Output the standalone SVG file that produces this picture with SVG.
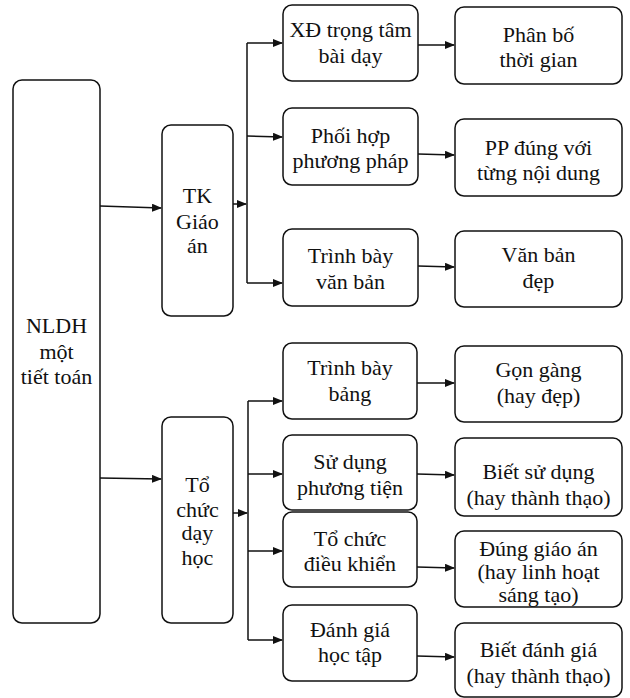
<svg xmlns="http://www.w3.org/2000/svg" width="630" height="698" viewBox="0 0 630 698">
<style>
.b{fill:#fff;stroke:#111;stroke-width:1.5}
.t{font-family:'Liberation Serif','Times New Roman',serif;font-size:22px;fill:#111;text-anchor:middle}
.c{fill:none;stroke:#111;stroke-width:1.5}
</style>
<defs>
<marker id="a" markerWidth="10" markerHeight="8" refX="9" refY="4" orient="auto" markerUnits="userSpaceOnUse">
<path d="M0,0 L10,4 L0,8 Z" fill="#111"/>
</marker>
</defs>
<rect width="630" height="698" fill="#fff"/>
<g id="connectors">
<path class="c" d="M100,206 L161,208" marker-end="url(#a)"/>
<path class="c" d="M100,478 L161,479" marker-end="url(#a)"/>
<path class="c" d="M233,204 L246,204" marker-end="url(#a)"/>
<path class="c" d="M247,43 L247,283"/>
<path class="c" d="M247,43 L282,43" marker-end="url(#a)"/>
<path class="c" d="M247,136 L282,137" marker-end="url(#a)"/>
<path class="c" d="M247,283 L282,283" marker-end="url(#a)"/>
<path class="c" d="M233,513 L247,513" marker-end="url(#a)"/>
<path class="c" d="M248,401 L248,640"/>
<path class="c" d="M248,401 L282,401" marker-end="url(#a)"/>
<path class="c" d="M248,474 L282,474" marker-end="url(#a)"/>
<path class="c" d="M248,551 L282,551" marker-end="url(#a)"/>
<path class="c" d="M248,640 L282,640" marker-end="url(#a)"/>
<path class="c" d="M418,45 L454,45" marker-end="url(#a)"/>
<path class="c" d="M418,154 L454,155" marker-end="url(#a)"/>
<path class="c" d="M418,266 L454,267" marker-end="url(#a)"/>
<path class="c" d="M417,383 L454,383" marker-end="url(#a)"/>
<path class="c" d="M417,474 L454,475" marker-end="url(#a)"/>
<path class="c" d="M417,567 L454,568" marker-end="url(#a)"/>
<path class="c" d="M417,656 L454,657" marker-end="url(#a)"/>
</g>
<g id="nldh">
<rect class="b" x="13" y="80" width="87" height="543" rx="9"/>
<text class="t" x="56.5" y="333">NLDH</text>
<text class="t" x="56.5" y="359">một</text>
<text class="t" x="56.5" y="384">tiết toán</text>
</g>
<g id="tk">
<rect class="b" x="162" y="125" width="71" height="191" rx="9"/>
<text class="t" x="197.5" y="203">TK</text>
<text class="t" x="197.5" y="229">Giáo</text>
<text class="t" x="197.5" y="253">án</text>
</g>
<g id="tc">
<rect class="b" x="162" y="417" width="71" height="206" rx="9"/>
<text class="t" x="197.5" y="492">Tổ</text>
<text class="t" x="197.5" y="517">chức</text>
<text class="t" x="197.5" y="540">dạy</text>
<text class="t" x="197.5" y="565">học</text>
</g>
<g id="xd">
<rect class="b" x="283" y="5" width="135" height="76" rx="9"/>
<text class="t" x="350.5" y="37">XĐ trọng tâm</text>
<text class="t" x="350.5" y="63">bài dạy</text>
</g>
<g id="ph">
<rect class="b" x="283" y="108" width="135" height="77" rx="9"/>
<text class="t" x="350.5" y="143">Phối hợp</text>
<text class="t" x="350.5" y="168">phương pháp</text>
</g>
<g id="tbvb">
<rect class="b" x="283" y="229" width="135" height="77" rx="9"/>
<text class="t" x="350.5" y="263">Trình bày</text>
<text class="t" x="350.5" y="289">văn bản</text>
</g>
<g id="pb">
<rect class="b" x="455" y="7" width="167" height="77" rx="9"/>
<text class="t" x="538.5" y="42">Phân bố</text>
<text class="t" x="538.5" y="67">thời gian</text>
</g>
<g id="pp">
<rect class="b" x="455" y="119" width="167" height="77" rx="9"/>
<text class="t" x="538.5" y="155">PP đúng với</text>
<text class="t" x="538.5" y="180">từng nội dung</text>
</g>
<g id="vb">
<rect class="b" x="455" y="231" width="167" height="76" rx="9"/>
<text class="t" x="538.5" y="262">Văn bản</text>
<text class="t" x="538.5" y="288">đẹp</text>
</g>
<g id="tbb">
<rect class="b" x="283" y="343" width="134" height="76" rx="9"/>
<text class="t" x="350" y="375">Trình bày</text>
<text class="t" x="350" y="401">bảng</text>
</g>
<g id="sd">
<rect class="b" x="283" y="435" width="134" height="75" rx="9"/>
<text class="t" x="350" y="469">Sử dụng</text>
<text class="t" x="350" y="495">phương tiện</text>
</g>
<g id="tcdk">
<rect class="b" x="283" y="512" width="134" height="75" rx="9"/>
<text class="t" x="350" y="546">Tổ chức</text>
<text class="t" x="350" y="571">điều khiển</text>
</g>
<g id="dg">
<rect class="b" x="283" y="605" width="134" height="76" rx="9"/>
<text class="t" x="350" y="637">Đánh giá</text>
<text class="t" x="350" y="662">học tập</text>
</g>
<g id="gg">
<rect class="b" x="455" y="346" width="167" height="76" rx="9"/>
<text class="t" x="538.5" y="377">Gọn gàng</text>
<text class="t" x="538.5" y="403">(hay đẹp)</text>
</g>
<g id="bsd">
<rect class="b" x="455" y="438" width="167" height="78" rx="9"/>
<text class="t" x="538.5" y="479">Biết sử dụng</text>
<text class="t" x="538.5" y="505">(hay thành thạo)</text>
</g>
<g id="dga">
<rect class="b" x="455" y="531" width="167" height="76" rx="9"/>
<text class="t" x="538.5" y="556">Đúng giáo án</text>
<text class="t" x="538.5" y="579">(hay linh hoạt</text>
<text class="t" x="538.5" y="602">sáng tạo)</text>
</g>
<g id="bdg">
<rect class="b" x="455" y="623" width="167" height="74" rx="9"/>
<text class="t" x="538.5" y="657">Biết đánh giá</text>
<text class="t" x="538.5" y="683">(hay thành thạo)</text>
</g>
</svg>
